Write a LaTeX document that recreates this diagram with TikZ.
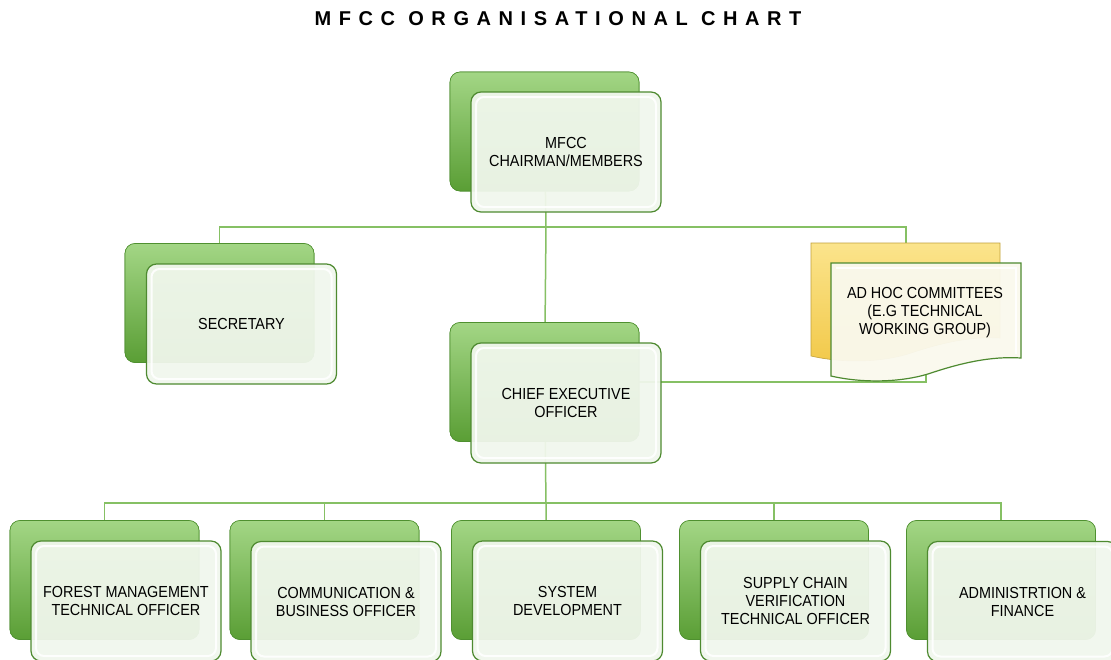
\documentclass[tikz,border=0pt]{standalone}
\usepackage{fontspec}
\setmainfont{Liberation Sans}
\newfontfamily\boxfont{Liberation Sans}[FakeStretch=0.9]
\newfontfamily\titlefont{Liberation Sans}[LetterSpace=38]
\definecolor{gdark}{HTML}{5A9E35}
\definecolor{glight}{HTML}{A3D685}
\definecolor{gedge}{HTML}{4F9030}
\definecolor{fedge}{HTML}{4E8A30}
\definecolor{ftop}{HTML}{F1F7ED}
\definecolor{lineg}{HTML}{86C064}
\definecolor{ydark}{HTML}{F2C94A}
\definecolor{ylight}{HTML}{FBE48C}
\definecolor{cream}{HTML}{FAF9EE}
\tikzset{
  backbox/.style={rounded corners=10pt, minimum width=189pt, minimum height=119pt,
    inner sep=0pt, draw=gedge, line width=0.6pt, top color=glight, bottom color=gdark},
  frontbox/.style={rounded corners=10pt, minimum width=190pt, minimum height=120pt,
    inner sep=0pt, draw=fedge, line width=1.2pt, fill=ftop, fill opacity=0.94,
    text opacity=1, align=center, font=\boxfont\fontsize{16}{18}\selectfont},
  inner/.style={rounded corners=8pt, draw=white, line width=2pt, draw opacity=0.9,
    minimum width=180pt, minimum height=110pt, inner sep=0pt},
  conn/.style={draw=lineg, line width=1.5pt},
}
\begin{document}
\begin{tikzpicture}[x=1pt,y=-1pt]
\useasboundingbox (0,0) rectangle (1111,659);
\fill[white] (0,0) rectangle (1111,659);

\node[font=\titlefont\bfseries\fontsize{20}{22}\selectfont] (title) at (558,19) {MFCC ORGANISATIONAL CHART};

% coordinates
\coordinate (bus1) at (546,227);
\coordinate (bus2) at (546,503);
\coordinate (adhB) at (906,243);
\coordinate (adhF) at (926,374);

% back boxes
\path
  (544.5,131.5) node[backbox] (topB) {}
  (219.5,303) node[backbox] (secB) {}
  (544.5,382) node[backbox] (ceoB) {}
  (104.5,580) node[backbox] (forB) {}
  (324.5,580) node[backbox] (comB) {}
  (546,580) node[backbox] (sysB) {}
  (774,580) node[backbox] (supB) {}
  (1001,580) node[backbox] (admB) {};

% connectors
\draw[conn] (topB.center) -- (bus1) -- (ceoB.center);
\draw[conn] (secB.center) |- (bus1) -| (adhB);
\draw[conn] (ceoB.center) -- (bus2) -- (sysB.center);
\draw[conn] (forB.center) |- (bus2) -| (admB.center);
\draw[conn] (comB.north) -- (comB.north |- bus2);
\draw[conn] (supB.north) -- (supB.north |- bus2);
\draw[conn] (ceoB.center) -| (adhF);

% redraw back boxes on top of connectors
\foreach \p in {(544.5,131.5),(219.5,303),(544.5,382),(104.5,580),(324.5,580),(546,580),(774,580),(1001,580)}{
  \path \p node[backbox] {};
}

% ad hoc back (yellow document shape)
\begin{scope}[shift={(811,243)}]
  \path[draw=ydark!80!black, line width=0.6pt, top color=ylight, bottom color=ydark]
    (0,0) -- (189,0) -- (189,95) .. controls (160,93) and (130,100) .. (100,110)
    .. controls (70,120) and (30,120) .. (0,113) -- cycle;
\end{scope}

% front boxes
\node[frontbox] (topF) at (566,152) {MFCC\\CHAIRMAN/MEMBERS};
\node[frontbox] (secF) at (241.5,324) {SECRETARY};
\node[frontbox] (ceoF) at (566,403) {CHIEF EXECUTIVE\\OFFICER};
\node[frontbox] (forF) at (126,601) {FOREST MANAGEMENT\\TECHNICAL OFFICER};
\node[frontbox] (comF) at (346,601.5) {COMMUNICATION \&\\BUSINESS OFFICER};
\node[frontbox] (sysF) at (567.5,601) {SYSTEM\\DEVELOPMENT};
\node[frontbox] (supF) at (795.5,601) {SUPPLY CHAIN\\VERIFICATION\\TECHNICAL OFFICER};
\node[frontbox] (admF) at (1022.5,601.5) {ADMINISTRTION \&\\FINANCE};
\foreach \c in {(566,152),(241.5,324),(566,403),(126,601),(346,601.5),(567.5,601),(795.5,601),(1022.5,601.5)}{
  \node[inner] at \c {};
}

% ad hoc front (document shape)
\begin{scope}[shift={(831,263)}]
  \path[draw=fedge, line width=1.2pt, fill=cream, fill opacity=0.95]
    (0,0) -- (190,0) -- (190,95) .. controls (160,93) and (130,100) .. (100,110)
    .. controls (70,120) and (30,120) .. (0,113) -- cycle;
  \path[draw=white, line width=2pt, draw opacity=0.9]
    (5,5) -- (185,5) -- (185,91);
\end{scope}
\node[align=center, font=\boxfont\fontsize{16}{18}\selectfont] (adhT) at (925,313)
  {AD HOC COMMITTEES\\(E.G TECHNICAL\\WORKING GROUP)};
\end{tikzpicture}
\end{document}
